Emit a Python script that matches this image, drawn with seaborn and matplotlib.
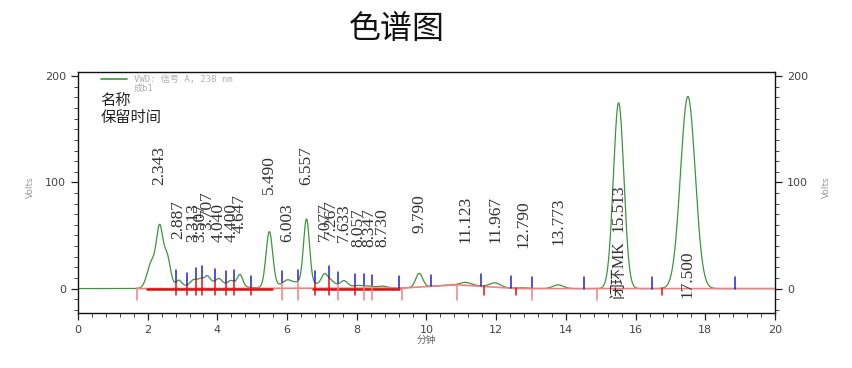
import numpy as np
import pandas as pd
import seaborn as sns
import matplotlib
matplotlib.use("Agg")
import matplotlib.pyplot as plt
from matplotlib.ticker import MultipleLocator

# ---- data ----
# peak components (retention time, height in volts, width sigma in min)
comp_rt = [2.12, 2.343, 2.55, 2.887, 3.313, 3.507, 3.707, 4.040, 4.400, 4.647, 3.80,
           5.490, 6.003, 6.20, 6.557, 7.077, 7.267, 7.633, 7.20, 8.057, 8.347, 8.730,
           9.790, 10.90, 11.123, 11.967, 12.790, 13.773, 15.513, 17.500]
comp_height = [25, 51, 30, 6, 4, 4, 6, 4, 4, 11, 6,
               52, 3, 5, 60, 10, 4, 5, 3, 1.5, 1.5, 2,
               13, 3.5, 2.5, 4, 0.5, 3.5, 175, 181]
comp_sigma = [0.13, 0.09, 0.10, 0.08, 0.08, 0.08, 0.08, 0.08, 0.08, 0.08, 0.6,
              0.095, 0.10, 0.45, 0.085, 0.09, 0.09, 0.10, 0.7, 0.12, 0.12, 0.15,
              0.10, 0.8, 0.15, 0.15, 0.15, 0.15, 0.15, 0.21]

# labelled peaks
label_rt = [2.343, 2.887, 3.313, 3.507, 3.707, 4.040, 4.400, 4.647, 5.490, 6.003,
            6.557, 7.077, 7.267, 7.633, 8.057, 8.347, 8.730, 9.790, 11.123, 11.967,
            12.790, 13.773, 15.513, 17.500]
label_text = ["2.343", "2.887", "3.313", "3.507", "3.707", "4.040", "4.400", "4.647",
              "5.490", "6.003", "6.557", "7.077", "7.267", "7.633", "8.057", "8.347",
              "8.730", "9.790", "11.123", "11.967", "12.790", "13.773", "15.513", "17.500"]
label_bottom = [98, 47, 44, 44, 55, 44, 44, 52, 89, 44, 98, 45, 48, 44, 39, 39, 39,
                52, 43, 43, 38, 41, 53, -9]
name_rt = [15.513]
name_text = ["闭环MK"]

# integration event marks
end_marks = [2.81, 3.12, 3.39, 3.56, 3.93, 4.24, 4.49, 4.97, 5.85, 6.30, 6.80, 7.20,
             7.45, 7.95, 8.21, 8.43, 9.21, 10.12, 11.57, 12.43, 13.03, 14.52, 16.46, 18.85]
start_dark = [2.81, 3.12, 3.39, 3.56, 3.93, 4.24, 4.49, 4.97, 6.80, 7.20, 7.95,
              11.65, 12.57, 16.76]
start_light = [1.69, 5.85, 6.30, 7.45, 8.21, 8.43, 9.29, 10.88, 13.03, 14.89]
baseline_t = [1.69, 9.29, 10.88, 11.65, 12.57, 20.0]
baseline_v = [0.0, 0.5, 3.5, 2.0, 0.0, 0.0]
drop_segments = [(1.97, 5.56), (6.75, 9.20)]

x_ticks = [0, 2, 4, 6, 8, 10, 12, 14, 16, 18, 20]
y_ticks = [0, 100, 200]

# ---- build trace ----
t = np.linspace(0, 20, 4001)
sig = np.zeros_like(t)
for r, h, s in zip(comp_rt, comp_height, comp_sigma):
    sig += h * np.exp(-0.5 * ((t - r) / s) ** 2)
df = pd.DataFrame({"time": t, "volts": sig})

sns.set_theme(style="white")
plt.rcParams["font.family"] = ["DejaVu Sans", "Noto Sans CJK SC"]

fig = plt.figure(figsize=(8.53, 3.68), dpi=100)
ax = fig.add_axes([78 / 853, 1 - 313 / 368, (775 - 78) / 853, (313 - 72) / 368])

sns.lineplot(data=df, x="time", y="volts", ax=ax, color="#3c963c", lw=0.9)

# baseline
ax.plot(baseline_t, baseline_v, color="#f28080", lw=1.2, zorder=3)
for a, b in drop_segments:
    ax.plot([a, b], [0, 0], color="#e01010", lw=1.8, zorder=3)

yi = lambda x: np.interp(x, t, sig)
for m in end_marks:
    ax.plot([m, m], [yi(m), yi(m) + 11], color="#2020d8", lw=1.1, zorder=4)
for m in start_dark:
    ax.plot([m, m], [yi(m), -6], color="#e01010", lw=1.1, zorder=4)
for m in start_light:
    ax.plot([m, m], [yi(m), -11], color="#f28080", lw=1.1, zorder=4)

lab_font = ["Liberation Serif", "Noto Sans CJK SC"]
for r, txt, b in zip(label_rt, label_text, label_bottom):
    ax.text(r, b, txt, rotation=90, ha="center", va="bottom", fontsize=12.5,
            family=lab_font, color="#333333", zorder=5)
for r, txt in zip(name_rt, name_text):
    ax.text(r, -9, txt, rotation=90, ha="center", va="bottom", fontsize=11.5,
            family=lab_font, color="#333333", zorder=5)

ax.set_xlim(0, 20)
ax.set_ylim(-23, 204)
ax.set_xticks(x_ticks)
ax.set_yticks(y_ticks)
ax.xaxis.set_minor_locator(MultipleLocator(0.4))
ax.yaxis.set_minor_locator(MultipleLocator(10))
ax.set_xlabel("")
ax.set_ylabel("")
ax.tick_params(axis="both", which="major", direction="out", length=5, width=0.9,
               labelsize=8, labelcolor="#444444", color="#222222",
               bottom=True, left=True, right=True, labelright=True)
ax.tick_params(axis="both", which="minor", direction="out", length=3, width=0.7,
               color="#444444", bottom=True, left=True, right=True)
for sp in ax.spines.values():
    sp.set_color("#111111")
    sp.set_linewidth(1.0)
ax.grid(False)

# legend block
ax.plot([0.65, 1.4], [197, 197], color="#3c963c", lw=1.2)
ax.text(1.6, 197, "VWD: 信号 A, 238 nm", fontsize=6.5, color="#b0b0b0",
        family=["DejaVu Sans Mono", "Noto Sans CJK SC"], va="center", ha="left")
ax.text(1.6, 188.5, "成b1", fontsize=6.5, color="#b0b0b0",
        family=["DejaVu Sans Mono", "Noto Sans CJK SC"], va="center", ha="left")
ax.text(0.65, 177, "名称", fontsize=11, color="#222222",
        family=["Noto Sans CJK SC"], va="center", ha="left")
ax.text(0.65, 161, "保留时间", fontsize=11, color="#222222",
        family=["Noto Sans CJK SC"], va="center", ha="left")

fig.text(397 / 853, 1 - 29 / 368, "色谱图", fontsize=23, ha="center", va="center",
         family=["Noto Sans CJK SC"], color="#111111")
fig.text(30 / 853, 1 - 187 / 368, "Volts", rotation=90, fontsize=6.5, color="#999999",
         ha="center", va="center")
fig.text(826 / 853, 1 - 187 / 368, "Volts", rotation=90, fontsize=6.5, color="#999999",
         ha="center", va="center")
fig.text(426 / 853, 1 - 340 / 368, "分钟", fontsize=7, color="#666666", ha="center",
         va="center", family=["Noto Sans CJK SC"])

fig.savefig("out.png", dpi=100)
